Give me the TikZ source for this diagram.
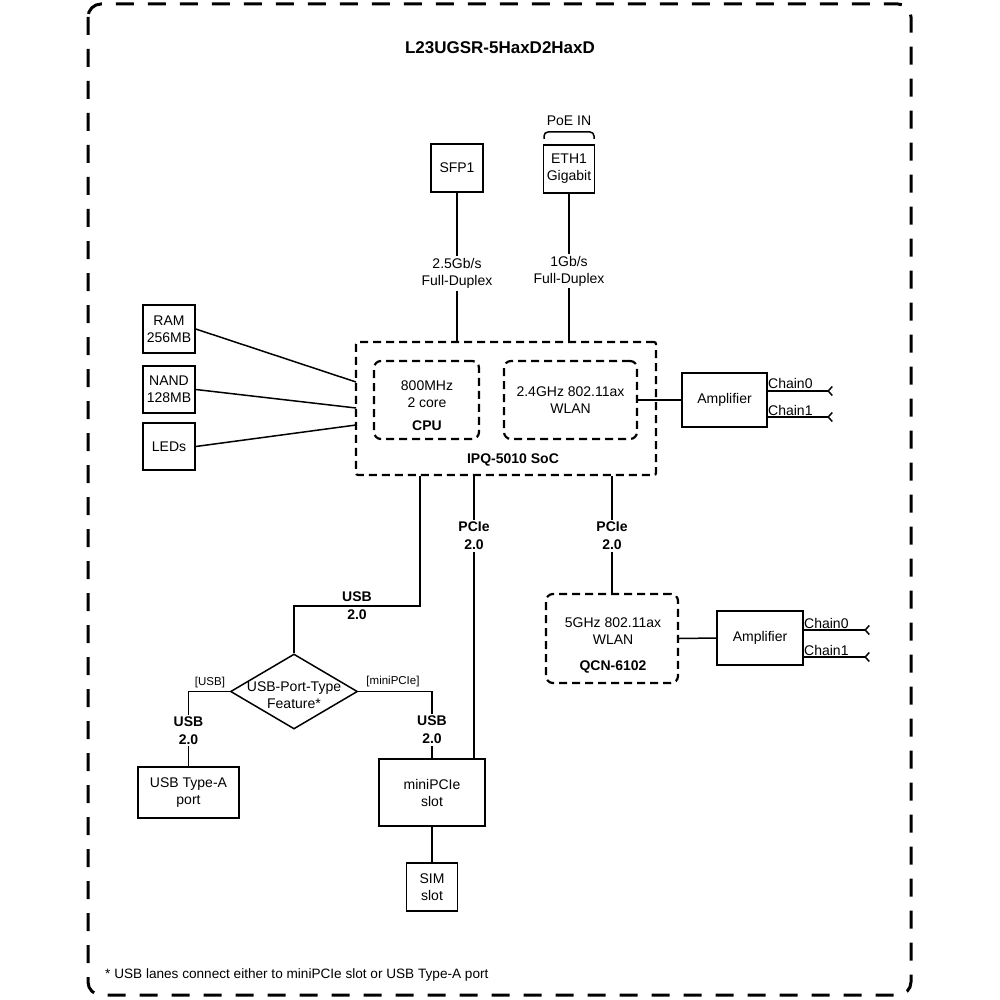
\documentclass[tikz,border=0pt]{standalone}
\usepackage{fontspec}
\setmainfont{Liberation Sans}
\usetikzlibrary{shapes.geometric,arrows.meta}
\begin{document}
\begin{tikzpicture}[x=1pt,y=-1pt,
  every node/.style={font=\fontsize{14}{17}\selectfont, inner sep=0pt, align=center},
  box/.style={draw, line width=1.5pt, fill=white},
  dbox/.style={draw, line width=2.2pt, dash pattern=on 8pt off 5pt},
  conn/.style={line width=1.5pt},
  lbl/.style={fill=white, inner sep=2pt},
  bld/.style={font=\fontsize{14}{18}\selectfont\bfseries},
  small/.style={font=\fontsize{11.5}{13}\selectfont},
  antenna/.style={-{Straight Barb[reversed,length=4pt,width=9pt]}},
  chainlbl/.style={anchor=west}
]
\path[fill=white, use as bounding box] (0,0) rectangle (1000,1000);

% outer border
\draw[line width=3pt, dash pattern=on 18pt off 14pt, rounded corners=13pt] (88,4) rectangle (911,995);
\node[font=\fontsize{17}{20}\selectfont\bfseries] (title) at (500,48) {L23UGSR-5HaxD2HaxD};

% top ports
\node[box, minimum width=52pt, minimum height=48pt] (sfp) at (457,168) {SFP1};
\node[box, minimum width=51pt, minimum height=48pt] (eth) at (569,169) {ETH1\\Gigabit};
\node (poe) at (569,121) {PoE IN};
\draw[line width=1.5pt, rounded corners=4pt] (544,139) |- (594,132) -- (594,139);

% memory
\node[box, minimum width=52pt, minimum height=48pt] (ram) at (169,329) {RAM\\256MB};
\node[box, minimum width=52pt, minimum height=47pt] (nand) at (169,389.5) {NAND\\128MB};
\node[box, minimum width=52pt, minimum height=47pt] (leds) at (169,446.5) {LEDs};

% SoC
\node[dbox, rounded corners=2pt, minimum width=300pt, minimum height=133pt] (soc) at (506,408.5) {};
\node[bld] (socl) at (513,460) {IPQ-5010 SoC};
\node[dbox, rounded corners=7pt, minimum width=105pt, minimum height=78pt] (cpu) at (426.5,400) {};
\node (cput) at (427,394) {800MHz\\2 core};
\node[bld] (cpul) at (427,426) {CPU};
\node[dbox, rounded corners=7pt, minimum width=133pt, minimum height=78pt] (wl24) at (570.5,400) {2.4GHz 802.11ax\\WLAN};

\node[box, minimum width=85pt, minimum height=54pt] (amp1) at (724.5,400) {Amplifier};

% QCN
\node[dbox, rounded corners=7pt, minimum width=132pt, minimum height=89pt] (qcn) at (612,638.5) {};
\node (qcnt) at (613,631.5) {5GHz 802.11ax\\WLAN};
\node[bld] (qcnl) at (613,667) {QCN-6102};
\node[box, minimum width=86pt, minimum height=54pt] (amp2) at (760,638) {Amplifier};

% lower part
\node[draw, diamond, line width=1.5pt, minimum width=127pt, minimum height=75pt] (dia) at (294,691.5) {};
\node (diat) at (294,695) {USB-Port-Type\\Feature*};
\node[box, minimum width=101pt, minimum height=51pt] (usba) at (188.5,792.5) {USB Type-A\\port};
\node[box, minimum width=106pt, minimum height=67pt] (mpcie) at (432,792.5) {miniPCIe\\slot};
\node[box, minimum width=51pt, minimum height=48pt] (sim) at (432,887) {SIM\\slot};

% connectors top
\draw[conn] (sfp.south) -- (sfp.south |- soc.north);
\draw[conn] (eth.south) -- (eth.south |- soc.north);
\node[lbl] (l1) at (457,273.5) {2.5Gb/s\\Full-Duplex};
\node[lbl] (l2) at (569,271) {1Gb/s\\Full-Duplex};

\coordinate (ramin) at (356,382);
\coordinate (nandin) at (356,408);
\coordinate (ledsin) at (356,425);
\draw[conn] (ram.east) -- (ramin);
\draw[conn] (nand.east) -- (nandin);
\draw[conn] (leds.east) -- (ledsin);

\draw[conn] (wl24.east) -- (amp1.west);
\coordinate (a1c0) at (833,391);
\coordinate (a1c1) at (833,417);
\draw[conn, antenna] (amp1.east |- a1c0) -- (a1c0);
\draw[conn, antenna] (amp1.east |- a1c1) -- (a1c1);
\node[chainlbl] (a1l0) at (768,383) {Chain0};
\node[chainlbl] (a1l1) at (768,410) {Chain1};

\draw[conn] (qcn.east) -- (amp2.west);
\coordinate (a2c0) at (870,630);
\coordinate (a2c1) at (870,657);
\draw[conn, antenna] (amp2.east |- a2c0) -- (a2c0);
\draw[conn, antenna] (amp2.east |- a2c1) -- (a2c1);
\node[chainlbl] (a2l0) at (804,623) {Chain0};
\node[chainlbl] (a2l1) at (804,650) {Chain1};

% USB
\coordinate (u1) at (420,606);
\coordinate (u2) at (294,606);
\draw[conn] (u1 |- soc.south) -- (u1) -- (u2) -- (dia.north);
\node[bld] (usbl1) at (357,597) {USB};
\node[bld] (usbl2) at (357,615) {2.0};

% PCIe
\coordinate (pc1) at (474,475);
\draw[conn] (pc1) -- (pc1 |- mpcie.north);
\node[lbl, bld] (pcl1) at (474,536) {PCIe\\2.0};
\draw[conn] (qcn.north |- soc.south) -- (qcn.north);
\node[lbl, bld] (pcl2) at (612,536) {PCIe\\2.0};

% diamond branches
\coordinate (dl) at (188.5,691.5);
\coordinate (dr) at (432,691.5);
\draw[conn] (dia.west) -- (dl) -- (usba.north);
\draw[conn] (dia.east) -- (dr) -- (mpcie.north);
\node[small] (tusb) at (210,683) {[USB]};
\node[small] (tmp) at (393,682) {[miniPCIe]};
\node[lbl, bld] (ul3) at (188.5,730.5) {USB\\2.0};
\node[lbl, bld] (ul4) at (432,730) {USB\\2.0};
\draw[conn] (mpcie.south) -- (sim.north);

% footnote
\node[anchor=west, font=\fontsize{13.6}{16}\selectfont] (fn) at (105,975) {* USB lanes connect either to miniPCIe slot or USB Type-A port};
\end{tikzpicture}
\end{document}
